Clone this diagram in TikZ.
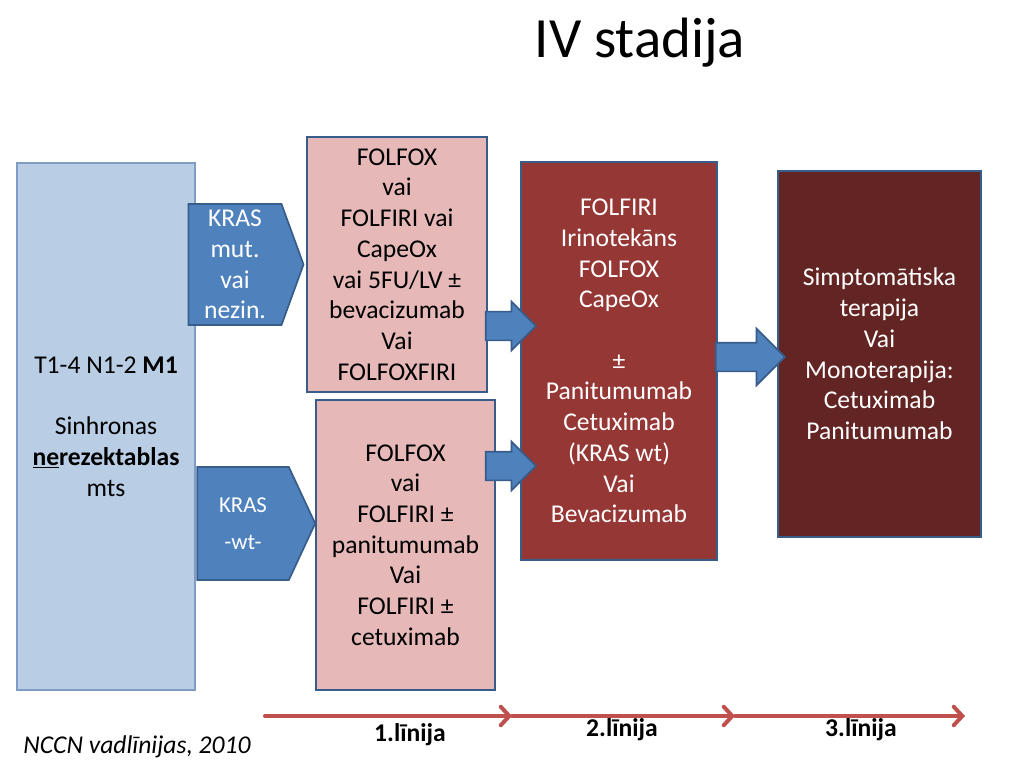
\documentclass[tikz,border=0pt]{standalone}
\usepackage{fontspec}
\setmainfont{Carlito}
\usetikzlibrary{shapes.arrows,shapes.symbols,arrows.meta}
\definecolor{diagblue}{HTML}{B9CDE5}
\definecolor{diagedge}{HTML}{7F9CC4}
\definecolor{firstpink}{HTML}{E6B9B8}
\definecolor{secondred}{HTML}{953735}
\definecolor{thirdred}{HTML}{632523}
\definecolor{boxedge}{HTML}{385D8A}
\definecolor{arrowblue}{HTML}{4F81BD}
\definecolor{axisred}{HTML}{C0504D}
\def\unitpx{0.703125pt}
\tikzset{
  stagebox/.style={draw=boxedge, line width=1.4pt, align=center, inner sep=0pt,
    font=\fontsize{18}{21.6}\selectfont},
  krassign/.style={shape=signal, signal to=east, draw=boxedge, fill=arrowblue,
    line width=1.2pt, text=white, align=center, inner sep=0pt},
  flowarrow/.style={single arrow, draw=boxedge, fill=arrowblue, line width=1.2pt,
    inner xsep=0pt, inner ysep=13.5*\unitpx, anchor=tip},
  lineaxis/.style={draw=axisred, line width=2.8pt, line cap=round,
    -{Straight Barb[length=6pt,width=13pt,line cap=round]}},
  linelabel/.style={font=\fontsize{18}{21.6}\selectfont\bfseries}
}
\begin{document}
\begin{tikzpicture}[x=\unitpx, y=-\unitpx]
\fill[white] (0,0) rectangle (1024,768);
\useasboundingbox (0,0) rectangle (1024,768);
% title
\node[font=\fontsize{40}{48}\selectfont, anchor=base] (title) at (640,58) {IV stadija};
% patient group
\node[stagebox, draw=diagedge, fill=diagblue, minimum width=178*\unitpx, minimum height=527*\unitpx]
  (diag) at (106,426.5) {T1-4 N1-2 \textbf{M1}\\ \mbox{}\\ Sinhronas\\ \textbf{\underline{ne}rezektablas}\\ mts};
% first line
\node[stagebox, fill=firstpink, minimum width=180*\unitpx, minimum height=255*\unitpx]
  (firstA) at (397,264.5) {FOLFOX\\ vai\\ FOLFIRI vai\\ CapeOx\\ vai 5FU/LV ±\\ bevacizumab\\ Vai\\ FOLFOXFIRI};
\node[stagebox, fill=firstpink, minimum width=179*\unitpx, minimum height=290*\unitpx]
  (firstB) at (405.5,545) {FOLFOX\\ vai\\ FOLFIRI ±\\ panitumumab\\ Vai\\ FOLFIRI ±\\ cetuximab};
% KRAS status
\node[krassign, signal pointer angle=140, minimum width=115*\unitpx, minimum height=121*\unitpx,
  font=\fontsize{18}{21.6}\selectfont] (krasmut) at (235,264.5) {KRAS\\ mut.\\ vai\\ nezin.};
\node[krassign, signal pointer angle=130, minimum width=118*\unitpx, minimum height=113*\unitpx,
  font=\fontsize{16}{26}\selectfont] (kraswt) at (243,523.5) {KRAS\\ -wt-};
% second line
\node[stagebox, fill=secondred, text=white, minimum width=196*\unitpx, minimum height=398*\unitpx]
  (second) at (619,361) {FOLFIRI\\ Irinotekāns\\ FOLFOX\\ CapeOx\\ \mbox{}\\ ±\\ Panitumumab\\ Cetuximab\\ (KRAS wt)\\ Vai\\ Bevacizumab};
% third line
\node[stagebox, fill=thirdred, text=white, minimum width=203*\unitpx, minimum height=366*\unitpx]
  (third) at (879.5,354) {Simptomātiska\\ terapija\\ Vai\\ Monoterapija:\\ Cetuximab\\ Panitumumab};
% block arrows
\node[flowarrow, minimum height=50*\unitpx, single arrow head extend=10*\unitpx] (toSecondA) at (537,326) {};
\node[flowarrow, minimum height=50*\unitpx, single arrow head extend=10*\unitpx] (toSecondB) at (537,466) {};
\node[flowarrow, minimum height=69*\unitpx, single arrow head extend=14*\unitpx] (toThird) at (786,357) {};
% treatment lines
\coordinate (t0) at (265,716);
\coordinate (t1) at (512,716);
\coordinate (t2) at (735,716);
\coordinate (t3) at (965,716);
\draw[lineaxis] (t0) -- (t1);
\draw[lineaxis] (t1) -- (t2);
\draw[lineaxis] (t2) -- (t3);
\node[linelabel] (lineone) at (410,735) {1.līnija};
\node[linelabel] (linetwo) at (622,730) {2.līnija};
\node[linelabel] (linethree) at (861,730) {3.līnija};
\node[font=\fontsize{18}{21}\selectfont\itshape] (source) at (137,747) {NCCN vadlīnijas, 2010};
\end{tikzpicture}
\end{document}
